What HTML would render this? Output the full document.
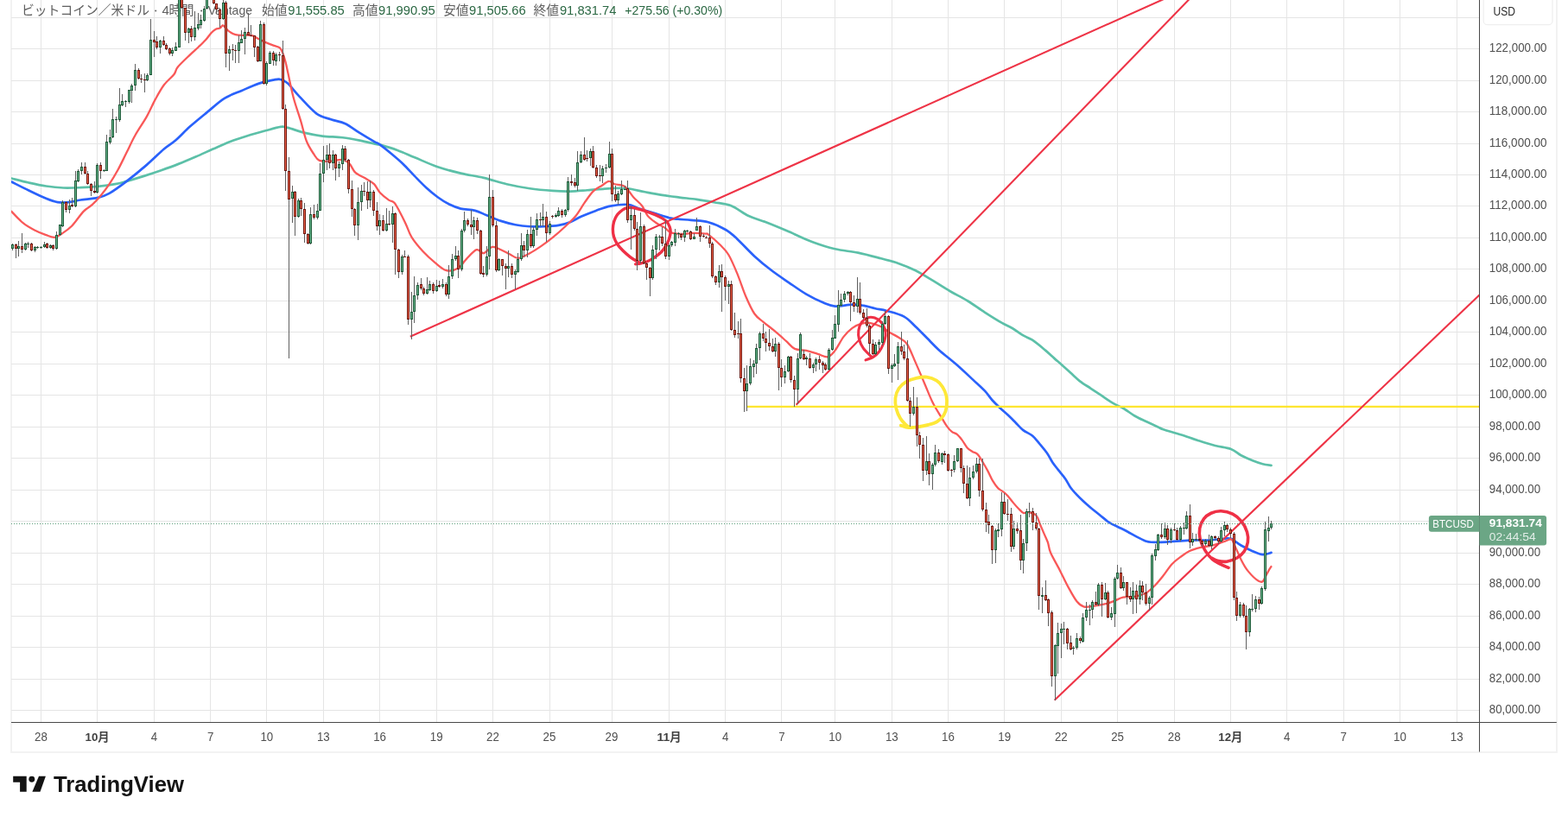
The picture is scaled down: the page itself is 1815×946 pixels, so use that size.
<!DOCTYPE html>
<html><head><meta charset="utf-8"><title>BTCUSD</title>
<style>html,body{margin:0;padding:0;background:#fff;overflow:hidden}svg{display:block}text{will-change:transform}text{font-family:"Liberation Sans","Noto Sans CJK JP",sans-serif}</style></head><body>
<svg width="1815" height="946" viewBox="0 0 1815 946">
<rect width="1815" height="946" fill="#fff"/>
<path d="M13 0V871H1802V0" fill="none" stroke="#f2f2f2" stroke-width="2"/>
<path d="M47.5 0V836.5M112.5 0V836.5M178.5 0V836.5M243.5 0V836.5M308.5 0V836.5M374.5 0V836.5M439.5 0V836.5M505.5 0V836.5M570.5 0V836.5M636.5 0V836.5M708.5 0V836.5M774.5 0V836.5M839.5 0V836.5M904.5 0V836.5M966.5 0V836.5M1032.5 0V836.5M1097.5 0V836.5M1162.5 0V836.5M1228.5 0V836.5M1293.5 0V836.5M1359.5 0V836.5M1424.5 0V836.5M1489.5 0V836.5M1555.5 0V836.5M1620.5 0V836.5M1686.5 0V836.5M13 20.5H1712.5M13 56.5H1712.5M13 93.5H1712.5M13 129.5H1712.5M13 166.5H1712.5M13 202.5H1712.5M13 238.5H1712.5M13 275.5H1712.5M13 311.5H1712.5M13 348.5H1712.5M13 384.5H1712.5M13 421.5H1712.5M13 457.5H1712.5M13 494.5H1712.5M13 530.5H1712.5M13 567.5H1712.5M13 603.5H1712.5M13 640.5H1712.5M13 676.5H1712.5M13 713.5H1712.5M13 749.5H1712.5M13 786.5H1712.5M13 822.5H1712.5" fill="none" stroke="#e5e5e5" stroke-width="1"/>
<g><text x="25" y="16.8" font-size="15" fill="#606060" font-family="&quot;Liberation Sans&quot;,&quot;Noto Sans CJK JP&quot;,sans-serif" textLength="148" lengthAdjust="spacingAndGlyphs">ビットコイン／米ドル</text><circle cx="180.2" cy="12.6" r="1" fill="#606060"/><text x="187.4" y="16.8" font-size="15" fill="#606060">4</text><text x="195.4" y="16.8" font-size="15" fill="#606060" font-family="&quot;Liberation Sans&quot;,&quot;Noto Sans CJK JP&quot;,sans-serif" textLength="29" lengthAdjust="spacingAndGlyphs">時間</text><circle cx="233.1" cy="12.6" r="1" fill="#606060"/><text x="240.8" y="16.8" font-size="15" fill="#606060" textLength="51.2" lengthAdjust="spacingAndGlyphs">Vantage</text><text x="303" y="16.8" font-size="15" fill="#606060" font-family="&quot;Liberation Sans&quot;,&quot;Noto Sans CJK JP&quot;,sans-serif" textLength="29.5" lengthAdjust="spacingAndGlyphs">始値</text><text x="333.2" y="16.8" font-size="15" fill="#2b6843" textLength="65.6" lengthAdjust="spacingAndGlyphs">91,555.85</text><text x="408" y="16.8" font-size="15" fill="#606060" font-family="&quot;Liberation Sans&quot;,&quot;Noto Sans CJK JP&quot;,sans-serif" textLength="29.5" lengthAdjust="spacingAndGlyphs">高値</text><text x="438.1" y="16.8" font-size="15" fill="#2b6843" textLength="65.6" lengthAdjust="spacingAndGlyphs">91,990.95</text><text x="513" y="16.8" font-size="15" fill="#606060" font-family="&quot;Liberation Sans&quot;,&quot;Noto Sans CJK JP&quot;,sans-serif" textLength="29.5" lengthAdjust="spacingAndGlyphs">安値</text><text x="543" y="16.8" font-size="15" fill="#2b6843" textLength="65.6" lengthAdjust="spacingAndGlyphs">91,505.66</text><text x="617.5" y="16.8" font-size="15" fill="#606060" font-family="&quot;Liberation Sans&quot;,&quot;Noto Sans CJK JP&quot;,sans-serif" textLength="29.5" lengthAdjust="spacingAndGlyphs">終値</text><text x="647.9" y="16.8" font-size="15" fill="#2b6843" textLength="65.6" lengthAdjust="spacingAndGlyphs">91,831.74</text><text x="723.2" y="16.8" font-size="15" fill="#2b6843" textLength="113" lengthAdjust="spacingAndGlyphs">+275.56 (+0.30%)</text></g>
<defs><clipPath id="pane"><rect x="13" y="0" width="1699.5" height="836.5"/></clipPath></defs>
<g clip-path="url(#pane)">
<path d="M13.32 206.53C16.66 207.36 26.65 210.03 33.31 211.53C39.97 213.02 46.64 214.52 53.3 215.52C59.96 216.52 66.62 217.24 73.28 217.52C79.95 217.8 86.61 217.47 93.27 217.19C99.93 216.91 106.6 216.52 113.26 215.86C119.92 215.19 127.69 214.19 133.24 213.19C138.8 212.19 141.02 211.41 146.57 209.86C152.12 208.31 159.89 205.97 166.56 203.86C173.22 201.75 179.88 199.53 186.54 197.2C193.2 194.87 199.87 192.48 206.53 189.87C213.19 187.26 219.85 184.43 226.52 181.55C233.18 178.66 239.84 175.49 246.5 172.55C253.16 169.61 259.83 166.44 266.49 163.89C273.15 161.34 279.81 159.28 286.48 157.23C293.14 155.17 300.08 153.29 306.46 151.57C312.85 149.84 320.34 147.51 324.78 146.9C329.22 146.29 328.39 146.74 333.11 147.9C337.83 149.07 346.44 152.29 353.1 153.9C359.76 155.51 365.87 156.67 373.08 157.56C380.3 158.45 389.18 158.39 396.4 159.23C403.62 160.06 409.73 161.23 416.39 162.56C423.05 163.89 432.44 166.38 436.38 167.22C440.31 168.07 436.06 166.5 440 167.62C443.94 168.74 453.32 171.51 459.99 173.95C466.65 176.39 472.2 179.06 479.97 182.28C487.75 185.5 497.74 190.22 506.62 193.27C515.51 196.32 524.39 198.49 533.27 200.6C542.15 202.71 551.04 203.82 559.92 205.93C568.8 208.04 577.69 211.2 586.57 213.26C595.45 215.31 604.33 216.98 613.22 218.25C622.1 219.53 632.09 220.36 639.87 220.92C647.64 221.47 653.19 221.7 659.85 221.59C666.52 221.47 673.18 220.75 679.84 220.25C686.5 219.75 694.27 218.98 699.83 218.59C705.38 218.2 708.71 217.98 713.15 217.92C717.59 217.87 720.92 217.53 726.48 218.25C732.03 218.98 739.8 220.97 746.46 222.25C753.12 223.53 759.79 224.86 766.45 225.92C773.11 226.97 779.77 227.75 786.44 228.58C793.1 229.41 799.76 229.97 806.42 230.91C813.08 231.86 819.75 233.02 826.41 234.24C833.07 235.47 839.69 235.62 846.4 238.24C853.1 240.87 859.93 246.82 866.64 250C873.34 253.18 878.85 254.27 886.62 257.33C894.39 260.38 904.39 264.55 913.27 268.32C922.15 272.1 931.04 276.65 939.92 279.98C948.8 283.31 957.69 286.2 966.57 288.31C975.45 290.42 984.33 290.81 993.22 292.64C1002.1 294.47 1012.09 297.25 1019.87 299.3C1027.64 301.35 1033.19 302.63 1039.85 304.96C1046.52 307.3 1053.18 309.96 1059.84 313.29C1066.5 316.62 1073.16 320.95 1079.83 324.95C1086.49 328.95 1093.15 333.39 1099.81 337.28C1106.48 341.16 1113.14 344.21 1119.8 348.27C1126.46 352.32 1133.12 357.32 1139.79 361.59C1146.45 365.87 1154.45 370.85 1159.77 373.92C1165.09 376.99 1167.61 377.58 1171.71 380C1175.82 382.42 1180.52 386.17 1184.4 388.46C1188.27 390.75 1190.74 390.92 1194.97 393.74C1199.2 396.56 1205.54 401.85 1209.77 405.37C1214 408.89 1217.17 412.06 1220.34 414.88C1223.51 417.7 1225.62 419.46 1228.79 422.28C1231.97 425.1 1235.84 428.63 1239.37 431.8C1242.89 434.97 1246.06 438.32 1249.94 441.31C1253.81 444.31 1258.39 446.95 1262.62 449.77C1266.85 452.59 1271.08 455.41 1275.31 458.22C1279.53 461.04 1283.76 464.21 1287.99 466.68C1292.22 469.15 1296.45 470.56 1300.68 473.02C1304.9 475.49 1309.13 479.01 1313.36 481.48C1317.59 483.95 1321.61 485.71 1326.05 487.82C1330.49 489.94 1336.57 492.59 1340 494.16C1343.43 495.74 1342.17 495.76 1346.6 497.28C1351.03 498.8 1359.93 501.17 1366.59 503.28C1373.25 505.39 1379.91 507.83 1386.58 509.94C1393.24 512.05 1400.18 514.27 1406.56 515.94C1412.95 517.6 1419.89 518.05 1424.88 519.93C1429.88 521.82 1432.38 525.04 1436.54 527.26C1440.71 529.48 1445.7 531.59 1449.87 533.26C1454.03 534.92 1457.92 536.31 1461.53 537.26C1465.13 538.2 1469.85 538.64 1471.52 538.92" fill="none" stroke="#5cc0a8" stroke-width="2.7" stroke-linecap="round" stroke-linejoin="round"/>
<path d="M13.32 210.53C16.66 212.19 26.65 217.3 33.31 220.52C39.97 223.74 47.75 227.57 53.3 229.85C58.85 232.12 62.18 233.46 66.62 234.18C71.06 234.9 75.51 234.62 79.95 234.18C84.39 233.73 87.72 232.4 93.27 231.51C98.82 230.62 107.71 230.12 113.26 228.85C118.81 227.57 121.03 227.02 126.58 223.85C132.13 220.69 139.35 215.36 146.57 209.86C153.79 204.36 162.67 197.09 169.89 190.87C177.1 184.65 184.32 177.27 189.87 172.55C195.43 167.83 198.2 166.89 203.2 162.56C208.19 158.23 213.75 152.01 219.85 146.57C225.96 141.13 233.18 135.35 239.84 129.91C246.5 124.47 253.16 118.09 259.83 113.92C266.49 109.76 273.15 107.82 279.81 104.93C286.48 102.04 293.69 98.66 299.8 96.6C305.91 94.55 312.29 93.38 316.46 92.6C320.62 91.83 322.01 91.27 324.78 91.94C327.56 92.6 329.5 93.33 333.11 96.6C336.72 99.88 340.88 105.76 346.44 111.59C351.99 117.42 360.32 127.14 366.42 131.58C372.53 136.02 377.53 136.3 383.08 138.24C388.63 140.18 394.18 140.63 399.73 143.24C405.29 145.85 410.84 150.46 416.39 153.9C421.94 157.34 429.11 161.6 433.04 163.89C436.98 166.18 436.62 165.22 440 167.62C443.38 170.02 448.88 174.56 453.32 178.28C457.77 182 462.21 185.67 466.65 189.94C471.09 194.21 475.53 199.38 479.97 203.93C484.41 208.48 488.86 213.2 493.3 217.26C497.74 221.31 502.18 225.03 506.62 228.25C511.06 231.47 515.51 234.35 519.95 236.58C524.39 238.8 528.27 240.35 533.27 241.57C538.27 242.79 544.93 242.63 549.93 243.9C554.92 245.18 558.25 247.24 563.25 249.23C568.25 251.23 574.35 254.06 579.91 255.9C585.46 257.73 591.01 259.17 596.56 260.23C602.11 261.28 607.67 261.89 613.22 262.23C618.77 262.56 624.32 262.45 629.87 262.23C635.43 262 641.53 261.73 646.53 260.89C651.53 260.06 655.41 258.95 659.85 257.23C664.29 255.51 668.18 252.79 673.18 250.57C678.17 248.35 684.28 245.9 689.83 243.9C695.39 241.91 700.38 239.74 706.49 238.57C712.6 237.41 720.92 236.41 726.48 236.91C732.03 237.41 734.8 239.96 739.8 241.57C744.8 243.18 750.35 244.74 756.46 246.57C762.56 248.4 769.22 251.18 776.44 252.56C783.66 253.95 792.54 254.12 799.76 254.9C806.98 255.67 813.04 255.38 819.75 257.23C826.45 259.08 834.39 262.75 839.99 265.99C845.58 269.23 847.76 271.54 853.31 276.65C858.86 281.76 866.64 290.53 873.3 296.64C879.96 302.74 886.62 308.18 893.28 313.29C899.95 318.4 906.61 322.73 913.27 327.28C919.93 331.83 926.6 336.72 933.26 340.61C939.92 344.49 947.69 348.27 953.24 350.6C958.8 352.93 961.02 354.26 966.57 354.6C972.12 354.93 981 352.71 986.56 352.6C992.11 352.49 995.44 353.15 999.88 353.93C1004.32 354.71 1008.76 356.26 1013.2 357.26C1017.65 358.26 1020.98 358.37 1026.53 359.93C1032.08 361.48 1040.96 363.54 1046.52 366.59C1052.07 369.64 1055.4 374.08 1059.84 378.25C1064.28 382.41 1068.72 387.13 1073.16 391.57C1077.61 396.01 1080.94 399.9 1086.49 404.9C1092.04 409.89 1099.81 415.72 1106.48 421.55C1113.14 427.38 1120.87 434.68 1126.46 439.87C1132.05 445.06 1136.33 448.79 1140 452.68C1143.67 456.58 1145.64 460.08 1148.46 463.26C1151.28 466.43 1153.74 468.72 1156.91 471.71C1160.08 474.71 1164.31 478.23 1167.48 481.23C1170.66 484.22 1173.12 486.86 1175.94 489.68C1178.76 492.5 1181.23 495.67 1184.4 498.14C1187.57 500.61 1191.8 501.84 1194.97 504.48C1198.14 507.12 1200.61 510.65 1203.42 514C1206.24 517.34 1209.42 521.04 1211.88 524.57C1214.35 528.09 1216.11 531.97 1218.22 535.14C1220.34 538.31 1222.1 540.42 1224.57 543.59C1227.03 546.77 1230.56 550.64 1233.02 554.16C1235.49 557.69 1237.25 561.74 1239.37 564.74C1241.48 567.73 1243.24 569.49 1245.71 572.14C1248.17 574.78 1251.35 577.95 1254.16 580.59C1256.98 583.23 1259.45 585.35 1262.62 587.99C1265.79 590.63 1269.67 593.63 1273.19 596.45C1276.72 599.27 1280.24 602.61 1283.76 604.9C1287.29 607.2 1290.81 608.43 1294.33 610.19C1297.86 611.95 1301.38 613.61 1304.9 615.48C1308.43 617.34 1311.95 619.56 1315.48 621.4C1319 623.23 1323.23 625.41 1326.05 626.47C1328.87 627.53 1328.41 627.56 1332.39 627.74C1336.37 627.91 1342.57 627.9 1349.93 627.53C1357.3 627.16 1368.81 625.86 1376.58 625.53C1384.35 625.2 1389.91 625.81 1396.57 625.53C1403.23 625.25 1411.84 624.14 1416.56 623.86C1421.27 623.59 1421.55 622.59 1424.88 623.86C1428.21 625.14 1432.38 629.14 1436.54 631.53C1440.71 633.91 1445.7 636.41 1449.87 638.19C1454.03 639.96 1457.92 641.91 1461.53 642.19C1465.13 642.46 1469.85 640.24 1471.52 639.85" fill="none" stroke="#2a62fb" stroke-width="2.7" stroke-linecap="round" stroke-linejoin="round"/>
<path d="M13.32 244.84C15.55 247.06 22.21 254.55 26.65 258.16C31.09 261.77 35.53 264.16 39.97 266.49C44.41 268.82 49.41 270.76 53.3 272.15C57.18 273.54 60.24 275.09 63.29 274.82C66.34 274.54 68.29 272.71 71.62 270.49C74.95 268.27 79.11 265.77 83.28 261.49C87.44 257.22 92.72 248.89 96.6 244.84C100.49 240.78 103.26 240.23 106.6 237.18C109.93 234.12 113.26 230.51 116.59 226.52C119.92 222.52 123.25 218.19 126.58 213.19C129.91 208.19 133.24 202.64 136.58 196.54C139.91 190.43 143.24 183.21 146.57 176.55C149.9 169.89 152.68 163.5 156.56 156.56C160.45 149.62 166 141.85 169.89 134.91C173.77 127.97 176.55 121.03 179.88 114.92C183.21 108.82 186.26 103.1 189.87 98.27C193.48 93.44 198.9 89.37 201.53 85.94C204.17 82.52 202.65 81.44 205.7 77.71C208.74 73.99 215.78 67.46 219.79 63.59C223.79 59.72 226.68 57.38 229.71 54.5C232.75 51.62 235.53 49.05 238.01 46.3C240.49 43.55 242.69 40.07 244.6 38.01C246.52 35.94 247.85 34.81 249.5 33.91C251.15 33.01 253.11 33.38 254.5 32.61C255.88 31.85 256.83 29.51 257.79 29.31C258.76 29.11 259.06 30.23 260.29 31.41C261.53 32.59 263.12 34.96 265.19 36.41C267.26 37.86 270.05 39.36 272.68 40.11C275.32 40.86 278.81 40.84 281.01 40.91C283.22 40.97 283.99 40.44 285.91 40.51C287.82 40.57 290.44 40.62 292.5 41.31C294.57 41.99 296.24 43.5 298.3 44.6C300.37 45.7 302.83 46.94 304.9 47.9C306.96 48.87 308.63 49.57 310.69 50.4C312.76 51.23 315.09 52.07 317.29 52.9C319.49 53.73 322.23 54.01 323.88 55.4C325.54 56.78 326.11 58.44 327.22 61.19C328.32 63.94 329.53 68.2 330.51 71.89C331.5 75.57 331.57 76.38 333.11 83.28C334.65 90.17 337.28 103.82 339.77 113.26C342.27 122.7 345.6 131.58 348.1 139.91C350.6 148.23 352.27 156.84 354.76 163.22C357.26 169.61 360.59 174.44 363.09 178.21C365.59 181.99 366.42 184.49 369.75 185.88C373.08 187.26 378.64 186.71 383.08 186.54C387.52 186.38 392.79 184.32 396.4 184.88C400.01 185.43 402.23 187.38 404.73 189.87C407.23 192.37 408.34 197.09 411.39 199.87C414.45 202.64 419.44 204.31 423.05 206.53C426.66 208.75 430.22 210.4 433.04 213.19C435.87 215.98 437.18 220.19 440 223.25C442.82 226.32 447.22 229.64 449.99 231.58C452.77 233.52 454.43 232.41 456.66 234.91C458.88 237.41 461.1 242.41 463.32 246.57C465.54 250.73 467.76 255.17 469.98 259.89C472.2 264.61 473.31 269.61 476.64 274.88C479.97 280.16 485.53 286.71 489.97 291.54C494.41 296.37 498.85 300.26 503.29 303.86C507.73 307.47 512.17 312.03 516.62 313.19C521.06 314.36 526.05 313.08 529.94 310.86C533.83 308.64 536.32 303.48 539.93 299.87C543.54 296.26 548.26 290.32 551.59 289.21C554.92 288.1 556.87 293.76 559.92 293.2C562.97 292.65 566.58 286.54 569.91 285.88C573.24 285.21 576.58 287.82 579.91 289.21C583.24 290.6 586.57 292.59 589.9 294.2C593.23 295.81 596.01 299.03 599.89 298.87C603.78 298.7 608.78 295.54 613.22 293.2C617.66 290.87 622.1 287.93 626.54 284.88C630.98 281.82 635.43 278.49 639.87 274.88C644.31 271.27 648.75 267.39 653.19 263.22C657.63 259.06 662.63 254.62 666.52 249.9C670.4 245.18 673.18 239.63 676.51 234.91C679.84 230.19 683.17 224.92 686.5 221.59C689.83 218.25 693.44 216.87 696.5 214.92C699.55 212.98 702.33 210.2 704.82 209.93C707.32 209.65 708.43 212.26 711.49 213.26C714.54 214.26 719.54 213.42 723.14 215.92C726.75 218.42 729.81 224.53 733.14 228.25C736.47 231.97 740.36 234.63 743.13 238.24C745.91 241.85 747.02 246.57 749.79 249.9C752.57 253.23 756.46 255.9 759.79 258.23C763.12 260.56 767 262.06 769.78 263.89C772.56 265.72 773.11 268.05 776.44 269.22C779.77 270.39 785.33 270.78 789.77 270.89C794.21 271 798.65 269.94 803.09 269.89C807.53 269.83 813.6 270.26 816.42 270.55C819.23 270.85 817.18 269.53 820 271.65C822.82 273.78 829.44 279.42 833.32 283.31C837.21 287.2 839.99 289.42 843.32 294.97C846.65 300.52 849.98 308.57 853.31 316.62C856.64 324.67 859.97 335.5 863.3 343.27C866.64 351.04 869.97 358.37 873.3 363.26C876.63 368.14 879.4 369.25 883.29 372.58C887.18 375.92 892.17 379.52 896.62 383.24C901.06 386.96 906.05 391.46 909.94 394.9C913.83 398.35 916.05 402.07 919.93 403.9C923.82 405.73 928.82 404.9 933.26 405.9C937.7 406.9 942.42 408.67 946.58 409.89C950.75 411.11 954.91 413.89 958.24 413.22C961.57 412.56 963.52 409.78 966.57 405.9C969.62 402.01 973.23 394.24 976.56 389.91C979.89 385.58 983.22 382.41 986.56 379.91C989.89 377.42 993.22 375.92 996.55 374.92C999.88 373.92 1002.66 373.36 1006.54 373.92C1010.43 374.47 1015.98 376.42 1019.87 378.25C1023.75 380.08 1026.53 382.86 1029.86 384.91C1033.19 386.96 1036.52 388.35 1039.85 390.57C1043.18 392.79 1046.52 393.35 1049.85 398.23C1053.18 403.12 1056.51 412.39 1059.84 419.89C1063.17 427.38 1066.5 435.43 1069.83 443.2C1073.16 450.98 1076.47 459.77 1079.83 466.52C1083.19 473.27 1087.32 479.23 1090 483.7C1092.68 488.17 1093.95 490.61 1095.92 493.32C1097.89 496.03 1099.87 498.38 1101.84 499.98C1103.81 501.58 1105.79 501.34 1107.76 502.94C1109.73 504.54 1111.71 507.01 1113.68 509.6C1115.65 512.19 1117.63 516.26 1119.6 518.48C1121.57 520.7 1123.55 521.69 1125.52 522.92C1127.49 524.15 1129.47 523.91 1131.44 525.88C1133.41 527.85 1135.39 531.55 1137.36 534.76C1139.33 537.96 1141.3 541.42 1143.28 545.12C1145.25 548.82 1147.22 553.63 1149.2 556.96C1151.17 560.29 1152.9 562.88 1155.12 565.1C1157.34 567.32 1160.54 568.67 1162.52 570.28C1164.49 571.88 1165.23 572.74 1166.96 574.72C1168.68 576.69 1170.9 579.77 1172.88 582.12C1174.85 584.46 1176.82 586.8 1178.8 588.78C1180.77 590.75 1182.74 593.22 1184.72 593.96C1186.69 594.7 1188.17 592.72 1190.64 593.22C1193.1 593.71 1197.3 594.57 1199.52 596.92C1201.74 599.26 1202.48 603.82 1203.96 607.28C1205.44 610.73 1206.9 614.15 1208.4 617.64C1209.89 621.12 1211.65 624.43 1212.94 628.16C1214.22 631.89 1213.84 634.71 1216.11 640C1218.38 645.29 1223.17 653.26 1226.58 659.91C1229.99 666.56 1233.24 673.79 1236.58 679.89C1239.91 686 1243.52 692.77 1246.57 696.55C1249.62 700.32 1251.57 701.71 1254.9 702.54C1258.23 703.38 1262.39 702.1 1266.56 701.55C1270.72 700.99 1275.99 700.16 1279.88 699.21C1283.77 698.27 1286.54 697.16 1289.87 695.88C1293.2 694.61 1295.98 692.39 1299.87 691.55C1303.75 690.72 1308.75 691.72 1313.19 690.89C1317.63 690.05 1322.63 688.67 1326.52 686.56C1330.4 684.45 1333.18 681.56 1336.51 678.23C1339.84 674.9 1343.17 670.73 1346.5 666.57C1349.83 662.41 1353.16 656.85 1356.5 653.24C1359.83 649.64 1363.16 647.42 1366.49 644.92C1369.82 642.42 1372.6 640.09 1376.48 638.25C1380.37 636.42 1385.37 635.03 1389.81 633.92C1394.25 632.81 1398.69 632.7 1403.13 631.59C1407.57 630.48 1412.79 628.48 1416.46 627.26C1420.12 626.05 1423.12 623.82 1425.12 624.31C1427.12 624.79 1427.21 627.65 1428.46 630.15C1429.71 632.66 1431.24 636.28 1432.64 639.34C1434.03 642.4 1435.42 645.74 1436.81 648.53C1438.2 651.31 1439.6 653.81 1440.99 656.04C1442.38 658.27 1443.49 659.86 1445.16 661.89C1446.83 663.92 1449.06 666.43 1451.01 668.23C1452.96 670.04 1455.18 671.85 1456.85 672.74C1458.53 673.64 1459.92 674 1461.03 673.58C1462.14 673.16 1462.7 671.63 1463.54 670.24C1464.37 668.85 1465.21 666.84 1466.04 665.23C1466.88 663.61 1467.66 662.08 1468.55 660.55C1469.44 659.02 1470.91 656.79 1471.39 656.04" fill="none" stroke="#f95858" stroke-width="2.3" stroke-linecap="round" stroke-linejoin="round"/>
<path d="M864.3 470.9H1712.5" stroke="#fde52f" stroke-width="2.1" fill="none"/>
<path d="M474.8 389.8L1351.5 -3" stroke="#ee3346" stroke-width="2.1" fill="none"/>
<path d="M921.6 468.8L1378.6 -3" stroke="#ee3346" stroke-width="2.1" fill="none"/>
<path d="M1220.6 810.8L1712.5 341.5" stroke="#ee3346" stroke-width="2.1" fill="none"/>
<path d="M735.66 305.82C736.75 305.66 739.93 305.32 742.19 304.82C744.45 304.32 746.71 303.9 749.22 302.81C751.73 301.72 754.57 300.08 757.25 298.29C759.93 296.5 763.02 294.33 765.28 292.07C767.54 289.81 769.3 287.22 770.8 284.74C772.31 282.26 773.43 279.8 774.32 277.21C775.2 274.62 775.99 271.6 776.12 269.18C776.26 266.75 775.92 264.83 775.12 262.65C774.32 260.48 773.28 258.08 771.31 256.12C769.33 254.17 766.62 252.61 763.27 250.9C759.93 249.2 755.07 247.32 751.22 245.88C747.38 244.44 743.69 243.21 740.18 242.27C736.67 241.33 732.99 240.38 730.14 240.26C727.3 240.14 725.12 240.76 723.11 241.57C721.1 242.37 719.68 243.66 718.09 245.08C716.5 246.5 714.83 248.09 713.57 250.1C712.32 252.11 711.27 254.62 710.56 257.13C709.86 259.64 709.36 262.32 709.36 265.16C709.36 268.01 709.69 271.27 710.56 274.2C711.43 277.13 712.82 280.05 714.58 282.73C716.34 285.41 718.68 287.83 721.1 290.26C723.53 292.69 726.54 295.28 729.14 297.29C731.73 299.3 734.66 301.1 736.67 302.31C738.67 303.51 740.43 304.15 741.18 304.52" fill="none" stroke="#ef3046" stroke-width="3.4" stroke-linecap="round" stroke-linejoin="round"/><path d="M1002.05 416.89C1003.5 416.31 1008.15 415.06 1010.77 413.4C1013.39 411.74 1015.8 409.47 1017.75 406.94C1019.7 404.41 1021.24 401.27 1022.46 398.22C1023.68 395.17 1024.85 391.68 1025.08 388.62C1025.31 385.57 1024.79 382.57 1023.86 379.9C1022.93 377.22 1021.39 374.55 1019.49 372.57C1017.6 370.59 1014.99 368.85 1012.52 368.03C1010.04 367.22 1007.14 366.93 1004.66 367.68C1002.19 368.44 999.49 370.1 997.68 372.57C995.88 375.04 994.37 379.11 993.84 382.52C993.32 385.92 993.61 389.49 994.54 392.98C995.47 396.47 997.31 400.34 999.43 403.45C1001.55 406.57 1005.54 409.97 1007.28 411.66C1009.03 413.34 1009.46 413.25 1009.9 413.57" fill="none" stroke="#ef3046" stroke-width="3.1" stroke-linecap="round" stroke-linejoin="round"/><path d="M1042.7 492.62C1044.21 493.03 1048.52 494.77 1051.78 495.06C1055.03 495.35 1058.46 494.89 1062.24 494.36C1066.03 493.84 1070.68 492.97 1074.46 491.92C1078.24 490.87 1081.96 489.88 1084.93 488.08C1087.89 486.28 1090.45 484.01 1092.26 481.1C1094.06 478.19 1095.22 474.41 1095.75 470.63C1096.27 466.85 1096.18 462.2 1095.4 458.42C1094.61 454.64 1092.93 450.92 1091.04 447.95C1089.15 444.98 1087.11 442.51 1084.06 440.62C1081 438.73 1076.64 437.07 1072.71 436.61C1068.79 436.14 1064.43 436.96 1060.5 437.83C1056.57 438.7 1052.5 439.86 1049.16 441.84C1045.81 443.82 1042.56 446.49 1040.43 449.69C1038.31 452.89 1036.91 457.11 1036.42 461.04C1035.93 464.96 1036.51 469.32 1037.47 473.25C1038.43 477.18 1040.38 481.54 1042.18 484.59C1043.98 487.65 1046.54 489.88 1048.29 491.57C1050.03 493.26 1051.92 494.19 1052.65 494.71" fill="none" stroke="#fee838" stroke-width="3.8" stroke-linecap="round" stroke-linejoin="round"/><path d="M1422.11 657.38C1420.53 656.68 1415.71 654.82 1412.59 653.2C1409.47 651.59 1406.33 650.28 1403.41 647.69C1400.48 645.1 1397.42 641.57 1395.05 637.67C1392.69 633.77 1390.27 628.62 1389.21 624.31C1388.15 619.99 1388.01 615.68 1388.71 611.78C1389.4 607.88 1391.21 603.84 1393.38 600.92C1395.56 598 1398.39 595.77 1401.74 594.24C1405.08 592.71 1409.25 591.6 1413.43 591.74C1417.6 591.87 1422.89 593.13 1426.79 595.08C1430.69 597.02 1434.03 599.95 1436.81 603.43C1439.6 606.91 1442.24 611.92 1443.49 615.95C1444.75 619.99 1444.88 623.89 1444.33 627.65C1443.77 631.4 1442.24 635.44 1440.15 638.5C1438.06 641.57 1435.14 644.07 1431.8 646.02C1428.46 647.97 1423.87 649.64 1420.11 650.2C1416.35 650.75 1412.17 650.06 1409.25 649.36C1406.33 648.66 1403.68 646.58 1402.57 646.02" fill="none" stroke="#ef3046" stroke-width="3.6" stroke-linecap="round" stroke-linejoin="round"/>
<path d="M14.5 282V283M14.5 288V290M18.5 282V283M18.5 288V299M21.5 279V285M21.5 288V297M25.5 270V285M25.5 289V293M29.5 281V282M29.5 289V290M32.5 280V282M32.5 283V287M36.5 281V282M36.5 290V291M40.5 285V286M40.5 290V292M43.5 285V286M43.5 287V288M47.5 285V286M47.5 287V288M51.5 280V283M51.5 286V287M54.5 281V282M54.5 287V288M58.5 283V284M58.5 287V288M61.5 283V284M61.5 288V290M65.5 268V272M65.5 288V289M69.5 272V273M72.5 232V234M72.5 262V263M76.5 233V234M76.5 243V246M80.5 231V238M80.5 243V247M83.5 229V237M83.5 239V240M87.5 198V209M87.5 239V240M90.5 196V198M90.5 210V211M94.5 188V193M94.5 198V202M98.5 188V193M98.5 201V202M101.5 198V201M101.5 213V214M105.5 212V213M105.5 221V227M109.5 210V221M109.5 223V224M112.5 189V191M112.5 223V224M116.5 188V191M116.5 198V207M120.5 196V197M120.5 198V199M123.5 156V164M127.5 150V159M127.5 165V167M130.5 126V138M130.5 159V160M134.5 135V138M134.5 139V154M138.5 102V121M138.5 139V141M141.5 109V117M141.5 122V123M145.5 116V117M145.5 118V124M149.5 118V120M152.5 97V99M152.5 105V119M156.5 74V81M156.5 99V105M160.5 79V81M160.5 91V92M163.5 86V91M163.5 92V96M167.5 85V92M167.5 93V107M170.5 85V87M170.5 93V94M174.5 22V46M178.5 36V46M178.5 49V66M181.5 42V48M181.5 55V57M185.5 46V47M185.5 55V62M189.5 42V47M189.5 52V53M192.5 50V52M192.5 57V58M196.5 55V56M196.5 62V64M199.5 55V58M199.5 62V65M203.5 49V54M207.5 -7V-5M210.5 -7V-5M210.5 9V10M214.5 38V47M218.5 32V33M218.5 38V50M221.5 30V33M221.5 43V48M225.5 13V32M225.5 43V47M229.5 15V28M229.5 33V35M232.5 17V23M232.5 29V33M236.5 7V10M236.5 24V25M239.5 -7V-3M239.5 10V11M243.5 -8V-6M243.5 -3V-2M247.5 -8V-6M247.5 4V5M250.5 11V16M254.5 22V32M258.5 0V3M258.5 22V23M261.5 1V3M261.5 62V78M265.5 53V57M265.5 62V82M269.5 51V57M269.5 58V70M272.5 52V58M272.5 59V73M276.5 41V49M276.5 59V73M279.5 35V45M283.5 32V37M283.5 45V63M287.5 15V37M290.5 29V41M294.5 55V66M298.5 53V54M298.5 71V72M301.5 24V28M305.5 26V28M305.5 97V98M308.5 71V73M308.5 97V99M312.5 59V61M316.5 59V61M316.5 70V76M319.5 61V63M319.5 71V76M323.5 60V63M323.5 64V71M327.5 47V64M327.5 126V127M330.5 121V126M330.5 198V221M334.5 182V198M334.5 231V415M338.5 215V222M338.5 230V258M341.5 221V222M341.5 251V273M345.5 230V232M345.5 251V252M348.5 229V232M348.5 242V250M352.5 235V242M352.5 271V281M356.5 270V271M356.5 282V283M359.5 240V248M359.5 282V283M363.5 237V248M363.5 252V254M367.5 236V244M367.5 252V254M370.5 189V201M374.5 169V185M374.5 201V211M378.5 168V179M378.5 185V197M381.5 166V179M381.5 189V195M385.5 174V179M385.5 189V197M388.5 178V179M388.5 195V209M392.5 187V190M392.5 195V205M396.5 168V172M396.5 190V197M399.5 169V172M399.5 185V187M403.5 184V185M403.5 219V224M407.5 209V219M407.5 242V251M410.5 241V242M410.5 261V273M414.5 217V234M414.5 261V278M418.5 214V221M418.5 234V244M421.5 211V221M421.5 222V227M425.5 210V222M425.5 232V242M428.5 209V222M428.5 232V240M432.5 220V222M432.5 244V250M436.5 234V244M436.5 262V267M439.5 248V255M439.5 262V272M443.5 249V255M443.5 267V268M447.5 241V259M447.5 267V268M450.5 244V259M450.5 260V261M454.5 239V247M454.5 260V281M457.5 246V247M457.5 289V318M461.5 288V289M461.5 315V322M465.5 295V297M465.5 315V318M468.5 290V297M472.5 295V297M472.5 370V376M476.5 338V361M476.5 370V393M479.5 320V342M479.5 361V374M483.5 327V330M483.5 342V347M487.5 322V329M487.5 334V336M490.5 332V334M490.5 340V342M494.5 321V335M494.5 340V341M497.5 325V329M497.5 336V337M501.5 327V329M501.5 337V340M505.5 324V331M505.5 337V338M508.5 325V330M508.5 332V333M512.5 323V329M512.5 332V334M516.5 327V329M516.5 341V343M519.5 307V320M519.5 341V346M523.5 294V300M523.5 320V323M527.5 285V296M527.5 300V302M530.5 290V296M530.5 312V322M534.5 265V267M534.5 312V314M537.5 245V255M537.5 267V269M541.5 253V255M541.5 260V262M545.5 243V260M545.5 263V272M548.5 251V255M548.5 263V277M552.5 252V255M552.5 267V271M556.5 266V267M556.5 317V318M559.5 308V316M559.5 318V321M563.5 285V297M563.5 318V320M566.5 202V228M566.5 297V312M570.5 220V228M570.5 261V263M574.5 256V261M574.5 313V315M577.5 299V300M577.5 313V314M581.5 308V319M585.5 305V308M585.5 311V335M588.5 290V308M588.5 311V321M592.5 305V308M592.5 318V322M596.5 312V314M596.5 318V335M599.5 293V300M599.5 315V316M603.5 270V284M603.5 300V302M606.5 279V284M606.5 290V298M610.5 266V271M610.5 290V298M614.5 251V271M614.5 285V287M617.5 263V266M617.5 285V287M621.5 247V254M621.5 266V273M625.5 246V254M625.5 255V262M628.5 236V251M628.5 255V262M632.5 245V251M632.5 270V280M636.5 256V259M636.5 270V272M639.5 249V250M639.5 251V253M643.5 247V249M643.5 251V252M646.5 240V244M646.5 250V251M650.5 242V244M650.5 249V252M654.5 242V243M654.5 249V251M657.5 205V210M657.5 243V245M661.5 202V210M661.5 212V215M665.5 206V211M665.5 215V217M668.5 175V188M668.5 215V221M672.5 175V179M672.5 188V189M676.5 159V179M676.5 185V186M679.5 174V183M679.5 184V187M683.5 172V175M683.5 183V192M686.5 169V175M686.5 194V195M690.5 191V194M690.5 204V206M694.5 191V203M694.5 204V210M697.5 192V195M697.5 204V212M701.5 190V194M701.5 195V200M705.5 164V178M705.5 194V195M708.5 172V178M708.5 225V233M712.5 215V225M712.5 232V234M715.5 221V224M715.5 232V237M719.5 209V219M719.5 225V226M723.5 215V219M726.5 209V218M726.5 255V258M730.5 239V249M730.5 255V289M734.5 242V249M734.5 265V267M737.5 257V265M737.5 302V313M741.5 246V262M741.5 302V305M745.5 260V262M745.5 305V306M748.5 304V305M748.5 310V324M752.5 309V310M752.5 322V343M755.5 284V289M755.5 322V324M759.5 271V274M759.5 289V300M763.5 272V274M763.5 275V290M766.5 263V274M766.5 282V285M770.5 255V282M770.5 297V300M774.5 282V284M774.5 297V301M777.5 279V280M777.5 284V286M781.5 265V270M781.5 281V285M785.5 269V270M785.5 271V276M788.5 270V271M788.5 275V278M792.5 266V267M792.5 275V280M795.5 266V267M795.5 268V269M799.5 267V268M799.5 277V278M803.5 270V274M806.5 252V262M810.5 261V262M810.5 274V280M814.5 271V273M814.5 274V275M817.5 273V275M821.5 261V275M821.5 282V287M824.5 280V282M824.5 320V322M828.5 319V320M828.5 327V330M832.5 307V314M832.5 327V333M835.5 306V314M835.5 321V361M839.5 319V321M839.5 332V348M843.5 325V329M843.5 332V352M846.5 325V329M846.5 382V383M850.5 362V382M850.5 388V391M854.5 372V386M854.5 387V392M857.5 369V386M857.5 438V443M861.5 426V438M861.5 453V477M864.5 423V444M864.5 453V476M868.5 415V424M868.5 444V446M872.5 417V421M872.5 425V437M875.5 398V403M875.5 421V433M879.5 384V386M879.5 403V417M883.5 375V386M883.5 392V395M886.5 384V392M886.5 397V407M890.5 381V397M890.5 401V406M894.5 392V401M894.5 407V408M897.5 391V398M897.5 407V413M901.5 396V398M901.5 426V452M904.5 416V426M904.5 437V448M908.5 423V430M908.5 437V444M912.5 412V413M912.5 430V431M915.5 412V413M915.5 440V443M919.5 435V440M919.5 451V471M923.5 409V415M923.5 451V468M926.5 385V387M926.5 415V416M930.5 405V410M930.5 416V417M933.5 412V414M933.5 416V423M937.5 409V415M937.5 426V427M941.5 420V422M941.5 426V432M944.5 414V416M944.5 422V430M948.5 412V416M948.5 420V428M952.5 418V420M952.5 423V432M955.5 420V422M955.5 428V429M959.5 403V405M959.5 428V429M963.5 382V391M963.5 405V406M966.5 365V375M970.5 336V353M970.5 376V384M973.5 340V347M973.5 354V355M977.5 337V340M977.5 347V350M981.5 337V338M981.5 340V342M984.5 337V338M984.5 350V372M988.5 342V350M988.5 355V361M992.5 321V346M992.5 355V362M995.5 327V346M995.5 362V364M999.5 358V362M999.5 368V370M1003.5 357V368M1003.5 377V379M1006.5 375V377M1006.5 398V410M1010.5 393V398M1010.5 410V411M1013.5 396V399M1013.5 410V411M1017.5 393V396M1017.5 399V405M1021.5 372V375M1021.5 397V400M1024.5 360V366M1024.5 375V376M1028.5 365V366M1028.5 427V433M1032.5 421V423M1032.5 427V443M1035.5 410V421M1035.5 424V425M1039.5 396V401M1039.5 421V440M1043.5 384V401M1043.5 407V411M1046.5 399V407M1046.5 415V417M1050.5 394V415M1050.5 464V465M1053.5 460V464M1053.5 479V494M1057.5 448V471M1057.5 479V481M1061.5 460V471M1061.5 504V517M1064.5 500V504M1064.5 515V531M1068.5 507V515M1068.5 545V557M1072.5 505V534M1072.5 545V550M1075.5 525V534M1075.5 549V562M1079.5 536V538M1079.5 549V567M1082.5 515V524M1082.5 538V540M1086.5 520V524M1086.5 534V536M1090.5 524V525M1090.5 535V538M1093.5 522V525M1093.5 527V536M1097.5 525V526M1097.5 545V546M1101.5 543V544M1101.5 545V552M1104.5 527V534M1104.5 544V547M1108.5 534V535M1112.5 542V547M1115.5 539V542M1115.5 560V571M1119.5 539V560M1119.5 577V578M1122.5 541V553M1122.5 577V586M1126.5 539V546M1126.5 553V555M1130.5 530V537M1130.5 546V548M1133.5 531V537M1133.5 568V575M1137.5 531V568M1137.5 590V592M1141.5 582V590M1141.5 605V616M1144.5 596V604M1144.5 608V618M1148.5 608V609M1148.5 637V653M1152.5 612V614M1152.5 637V652M1155.5 606V613M1155.5 615V622M1159.5 570V581M1159.5 613V621M1162.5 571V581M1162.5 595V596M1166.5 578V595M1166.5 596V603M1170.5 588V595M1170.5 633V639M1173.5 603V612M1173.5 633V636M1177.5 605V612M1177.5 615V618M1181.5 596V614M1181.5 649V660M1184.5 624V629M1184.5 649V664M1188.5 589V592M1188.5 629V638M1191.5 582V592M1191.5 593V599M1195.5 588V592M1195.5 605V614M1199.5 594V605M1199.5 612V614M1202.5 611V612M1202.5 690V706M1206.5 680V689M1206.5 691V710M1210.5 672V689M1210.5 695V696M1213.5 693V694M1213.5 710V725M1217.5 707V709M1217.5 783V795M1221.5 746V747M1221.5 783V811M1224.5 721V733M1224.5 748V780M1228.5 722V728M1228.5 733V762M1231.5 720V728M1231.5 729V746M1235.5 727V728M1235.5 745V752M1239.5 736V744M1239.5 752V753M1242.5 748V750M1242.5 751V758M1246.5 733V739M1246.5 750V752M1250.5 737V739M1250.5 742V745M1253.5 710V715M1253.5 743V744M1257.5 697V706M1257.5 715V719M1261.5 700V706M1261.5 707V724M1264.5 695V697M1264.5 706V716M1268.5 685V697M1268.5 700V701M1271.5 675V677M1271.5 700V702M1275.5 674V677M1275.5 694V714M1279.5 675V686M1279.5 694V695M1282.5 684V686M1282.5 715V716M1286.5 703V710M1286.5 715V718M1290.5 668V670M1290.5 711V726M1293.5 654V663M1293.5 670V671M1297.5 657V663M1297.5 681V682M1300.5 667V674M1300.5 681V684M1304.5 691V700M1308.5 680V690M1308.5 694V697M1311.5 674V684M1311.5 694V711M1315.5 677V684M1315.5 694V710M1319.5 672V678M1319.5 694V700M1322.5 673V678M1322.5 686V695M1326.5 676V686M1326.5 699V701M1330.5 690V692M1330.5 699V707M1333.5 641V643M1333.5 692V700M1337.5 630V636M1337.5 644V649M1340.5 618V619M1340.5 637V638M1344.5 606V619M1344.5 622V624M1348.5 605V612M1348.5 622V624M1351.5 608V612M1351.5 625V631M1355.5 611V613M1355.5 625V629M1359.5 606V613M1359.5 614V615M1362.5 611V614M1362.5 625V626M1366.5 609V611M1366.5 625V627M1370.5 605V611M1370.5 612V619M1373.5 592V597M1373.5 612V613M1377.5 584V597M1377.5 628V635M1380.5 617V624M1380.5 628V632M1384.5 618V624M1384.5 625V627M1388.5 623V624M1388.5 626V627M1391.5 625V626M1391.5 630V633M1395.5 624V626M1395.5 630V632M1399.5 619V626M1399.5 632V633M1402.5 620V621M1402.5 632V636M1406.5 620V621M1406.5 623V626M1410.5 621V623M1410.5 627V630M1413.5 610V614M1413.5 627V628M1417.5 604V608M1417.5 614V621M1420.5 606V608M1420.5 613V616M1424.5 611V613M1424.5 618V623M1428.5 616V618M1428.5 692V695M1431.5 685V692M1431.5 713V719M1435.5 697V700M1435.5 713V715M1439.5 698V700M1439.5 713V715M1442.5 701V713M1442.5 732V752M1446.5 704V705M1446.5 732V737M1449.5 688V705M1449.5 706V708M1453.5 690V694M1453.5 705V709M1457.5 691V694M1457.5 699V706M1460.5 679V681M1460.5 699V700M1464.5 604V613M1464.5 682V684M1468.5 598V611M1468.5 615V627M1471.5 603V606M1471.5 611V613" stroke="#606060" stroke-width="1" fill="none"/>
<path d="M13 283h3V288h-3ZM20 285h3V288h-3ZM28 282h3V289h-3ZM31 282h3V283h-3ZM39 286h3V290h-3ZM42 286h3V287h-3ZM46 286h3V287h-3ZM50 283h3V286h-3ZM57 284h3V287h-3ZM64 272h3V288h-3ZM68 260h3V272h-3ZM71 234h3V262h-3ZM79 238h3V243h-3ZM86 209h3V239h-3ZM89 198h3V210h-3ZM93 193h3V198h-3ZM111 191h3V223h-3ZM119 197h3V198h-3ZM122 164h3V198h-3ZM126 159h3V165h-3ZM129 138h3V159h-3ZM133 138h3V139h-3ZM137 121h3V139h-3ZM140 117h3V122h-3ZM144 117h3V118h-3ZM148 104h3V118h-3ZM151 99h3V105h-3ZM155 81h3V99h-3ZM169 87h3V93h-3ZM173 46h3V87h-3ZM184 47h3V55h-3ZM198 58h3V62h-3ZM202 54h3V59h-3ZM206 -5h3V55h-3ZM217 33h3V38h-3ZM224 32h3V43h-3ZM228 28h3V33h-3ZM231 23h3V29h-3ZM235 10h3V24h-3ZM238 -3h3V10h-3ZM242 -6h3V-3h-3ZM257 3h3V22h-3ZM264 57h3V62h-3ZM275 49h3V59h-3ZM278 45h3V50h-3ZM282 37h3V45h-3ZM300 28h3V71h-3ZM307 73h3V97h-3ZM311 61h3V74h-3ZM318 63h3V71h-3ZM337 222h3V230h-3ZM344 232h3V251h-3ZM358 248h3V282h-3ZM366 244h3V252h-3ZM369 201h3V244h-3ZM373 185h3V201h-3ZM377 179h3V185h-3ZM384 179h3V189h-3ZM391 190h3V195h-3ZM395 172h3V190h-3ZM413 234h3V261h-3ZM417 221h3V234h-3ZM427 222h3V232h-3ZM438 255h3V262h-3ZM446 259h3V267h-3ZM453 247h3V260h-3ZM464 297h3V315h-3ZM475 361h3V370h-3ZM478 342h3V361h-3ZM482 330h3V342h-3ZM493 335h3V340h-3ZM496 329h3V336h-3ZM504 331h3V337h-3ZM511 329h3V332h-3ZM518 320h3V341h-3ZM522 300h3V320h-3ZM526 296h3V300h-3ZM533 267h3V312h-3ZM536 255h3V267h-3ZM547 255h3V263h-3ZM562 297h3V318h-3ZM565 228h3V297h-3ZM576 300h3V313h-3ZM587 308h3V311h-3ZM595 314h3V318h-3ZM598 300h3V315h-3ZM602 284h3V300h-3ZM609 271h3V290h-3ZM616 266h3V285h-3ZM620 254h3V266h-3ZM627 251h3V255h-3ZM635 259h3V270h-3ZM642 249h3V251h-3ZM645 244h3V250h-3ZM653 243h3V249h-3ZM656 210h3V243h-3ZM667 188h3V215h-3ZM671 179h3V188h-3ZM682 175h3V183h-3ZM696 195h3V204h-3ZM700 194h3V195h-3ZM704 178h3V194h-3ZM714 224h3V232h-3ZM718 219h3V225h-3ZM722 219h3V220h-3ZM729 249h3V255h-3ZM740 262h3V302h-3ZM754 289h3V322h-3ZM758 274h3V289h-3ZM762 274h3V275h-3ZM773 284h3V297h-3ZM776 280h3V284h-3ZM780 270h3V281h-3ZM784 270h3V271h-3ZM791 267h3V275h-3ZM794 267h3V268h-3ZM802 274h3V277h-3ZM805 262h3V267h-3ZM831 314h3V327h-3ZM842 329h3V332h-3ZM863 444h3V453h-3ZM867 424h3V444h-3ZM871 421h3V425h-3ZM874 403h3V421h-3ZM878 386h3V403h-3ZM896 398h3V407h-3ZM907 430h3V437h-3ZM911 413h3V430h-3ZM922 415h3V451h-3ZM925 387h3V415h-3ZM932 414h3V416h-3ZM940 422h3V426h-3ZM943 416h3V422h-3ZM958 405h3V428h-3ZM962 391h3V405h-3ZM965 375h3V392h-3ZM969 353h3V376h-3ZM972 347h3V354h-3ZM976 340h3V347h-3ZM980 338h3V340h-3ZM991 346h3V355h-3ZM1012 399h3V410h-3ZM1016 396h3V399h-3ZM1020 375h3V397h-3ZM1023 366h3V375h-3ZM1031 423h3V427h-3ZM1034 421h3V424h-3ZM1038 401h3V421h-3ZM1056 471h3V479h-3ZM1071 534h3V545h-3ZM1078 538h3V549h-3ZM1081 524h3V538h-3ZM1089 525h3V535h-3ZM1103 534h3V544h-3ZM1107 519h3V534h-3ZM1121 553h3V577h-3ZM1125 546h3V553h-3ZM1129 537h3V546h-3ZM1151 614h3V637h-3ZM1154 613h3V615h-3ZM1158 581h3V613h-3ZM1172 612h3V633h-3ZM1183 629h3V649h-3ZM1187 592h3V629h-3ZM1190 592h3V593h-3ZM1205 689h3V691h-3ZM1220 747h3V783h-3ZM1223 733h3V748h-3ZM1227 728h3V733h-3ZM1230 728h3V729h-3ZM1241 750h3V751h-3ZM1245 739h3V750h-3ZM1252 715h3V743h-3ZM1256 706h3V715h-3ZM1260 706h3V707h-3ZM1263 697h3V706h-3ZM1270 677h3V700h-3ZM1278 686h3V694h-3ZM1285 710h3V715h-3ZM1289 670h3V711h-3ZM1292 663h3V670h-3ZM1299 674h3V681h-3ZM1310 684h3V694h-3ZM1318 678h3V694h-3ZM1329 692h3V699h-3ZM1332 643h3V692h-3ZM1336 636h3V644h-3ZM1339 619h3V637h-3ZM1347 612h3V622h-3ZM1354 613h3V625h-3ZM1365 611h3V625h-3ZM1369 611h3V612h-3ZM1372 597h3V612h-3ZM1379 624h3V628h-3ZM1383 624h3V625h-3ZM1394 626h3V630h-3ZM1401 621h3V632h-3ZM1412 614h3V627h-3ZM1416 608h3V614h-3ZM1434 700h3V713h-3ZM1445 705h3V732h-3ZM1448 705h3V706h-3ZM1452 694h3V705h-3ZM1459 681h3V699h-3ZM1463 613h3V682h-3ZM1467 611h3V615h-3ZM1470 606h3V611h-3Z" fill="#1f5a39"/>
<path d="M17 283h3V288h-3ZM24 285h3V289h-3ZM35 282h3V290h-3ZM53 282h3V287h-3ZM60 284h3V288h-3ZM75 234h3V243h-3ZM82 237h3V239h-3ZM97 193h3V201h-3ZM100 201h3V213h-3ZM104 213h3V221h-3ZM108 221h3V223h-3ZM115 191h3V198h-3ZM159 81h3V91h-3ZM162 91h3V92h-3ZM166 92h3V93h-3ZM177 46h3V49h-3ZM180 48h3V55h-3ZM188 47h3V52h-3ZM191 52h3V57h-3ZM195 56h3V62h-3ZM209 -5h3V9h-3ZM213 9h3V38h-3ZM220 33h3V43h-3ZM246 -6h3V4h-3ZM249 4h3V11h-3ZM253 11h3V22h-3ZM260 3h3V62h-3ZM268 57h3V58h-3ZM271 58h3V59h-3ZM286 37h3V41h-3ZM289 41h3V42h-3ZM293 41h3V55h-3ZM297 54h3V71h-3ZM304 28h3V97h-3ZM315 61h3V70h-3ZM322 63h3V64h-3ZM326 64h3V126h-3ZM329 126h3V198h-3ZM333 198h3V231h-3ZM340 222h3V251h-3ZM347 232h3V242h-3ZM351 242h3V271h-3ZM355 271h3V282h-3ZM362 248h3V252h-3ZM380 179h3V189h-3ZM387 179h3V195h-3ZM398 172h3V185h-3ZM402 185h3V219h-3ZM406 219h3V242h-3ZM409 242h3V261h-3ZM420 221h3V222h-3ZM424 222h3V232h-3ZM431 222h3V244h-3ZM435 244h3V262h-3ZM442 255h3V267h-3ZM449 259h3V260h-3ZM456 247h3V289h-3ZM460 289h3V315h-3ZM467 297h3V298h-3ZM471 297h3V370h-3ZM486 329h3V334h-3ZM489 334h3V340h-3ZM500 329h3V337h-3ZM507 330h3V332h-3ZM515 329h3V341h-3ZM529 296h3V312h-3ZM540 255h3V260h-3ZM544 260h3V263h-3ZM551 255h3V267h-3ZM555 267h3V317h-3ZM558 316h3V318h-3ZM569 228h3V261h-3ZM573 261h3V313h-3ZM580 300h3V308h-3ZM584 308h3V311h-3ZM591 308h3V318h-3ZM605 284h3V290h-3ZM613 271h3V285h-3ZM624 254h3V255h-3ZM631 251h3V270h-3ZM638 250h3V251h-3ZM649 244h3V249h-3ZM660 210h3V212h-3ZM664 211h3V215h-3ZM675 179h3V185h-3ZM678 183h3V184h-3ZM685 175h3V194h-3ZM689 194h3V204h-3ZM693 203h3V204h-3ZM707 178h3V225h-3ZM711 225h3V232h-3ZM725 218h3V255h-3ZM733 249h3V265h-3ZM736 265h3V302h-3ZM744 262h3V305h-3ZM747 305h3V310h-3ZM751 310h3V322h-3ZM765 274h3V282h-3ZM769 282h3V297h-3ZM787 271h3V275h-3ZM798 268h3V277h-3ZM809 262h3V274h-3ZM813 273h3V274h-3ZM816 275h3V276h-3ZM820 275h3V282h-3ZM823 282h3V320h-3ZM827 320h3V327h-3ZM834 314h3V321h-3ZM838 321h3V332h-3ZM845 329h3V382h-3ZM849 382h3V388h-3ZM853 386h3V387h-3ZM856 386h3V438h-3ZM860 438h3V453h-3ZM882 386h3V392h-3ZM885 392h3V397h-3ZM889 397h3V401h-3ZM893 401h3V407h-3ZM900 398h3V426h-3ZM903 426h3V437h-3ZM914 413h3V440h-3ZM918 440h3V451h-3ZM929 410h3V416h-3ZM936 415h3V426h-3ZM947 416h3V420h-3ZM951 420h3V423h-3ZM954 422h3V428h-3ZM983 338h3V350h-3ZM987 350h3V355h-3ZM994 346h3V362h-3ZM998 362h3V368h-3ZM1002 368h3V377h-3ZM1005 377h3V398h-3ZM1009 398h3V410h-3ZM1027 366h3V427h-3ZM1042 401h3V407h-3ZM1045 407h3V415h-3ZM1049 415h3V464h-3ZM1052 464h3V479h-3ZM1060 471h3V504h-3ZM1063 504h3V515h-3ZM1067 515h3V545h-3ZM1074 534h3V549h-3ZM1085 524h3V534h-3ZM1092 525h3V527h-3ZM1096 526h3V545h-3ZM1100 544h3V545h-3ZM1111 519h3V542h-3ZM1114 542h3V560h-3ZM1118 560h3V577h-3ZM1132 537h3V568h-3ZM1136 568h3V590h-3ZM1140 590h3V605h-3ZM1143 604h3V608h-3ZM1147 609h3V637h-3ZM1161 581h3V595h-3ZM1165 595h3V596h-3ZM1169 595h3V633h-3ZM1176 612h3V615h-3ZM1180 614h3V649h-3ZM1194 592h3V605h-3ZM1198 605h3V612h-3ZM1201 612h3V690h-3ZM1209 689h3V695h-3ZM1212 694h3V710h-3ZM1216 709h3V783h-3ZM1234 728h3V745h-3ZM1238 744h3V752h-3ZM1249 739h3V742h-3ZM1267 697h3V700h-3ZM1274 677h3V694h-3ZM1281 686h3V715h-3ZM1296 663h3V681h-3ZM1303 674h3V691h-3ZM1307 690h3V694h-3ZM1314 684h3V694h-3ZM1321 678h3V686h-3ZM1325 686h3V699h-3ZM1343 619h3V622h-3ZM1350 612h3V625h-3ZM1358 613h3V614h-3ZM1361 614h3V625h-3ZM1376 597h3V628h-3ZM1387 624h3V626h-3ZM1390 626h3V630h-3ZM1398 626h3V632h-3ZM1405 621h3V623h-3ZM1409 623h3V627h-3ZM1419 608h3V613h-3ZM1423 613h3V618h-3ZM1427 618h3V692h-3ZM1430 692h3V713h-3ZM1438 700h3V713h-3ZM1441 713h3V732h-3ZM1456 694h3V699h-3Z" fill="#6e1710"/>
<path d="M14 284h1V287h-1ZM21 286h1V287h-1ZM29 283h1V288h-1ZM40 287h1V289h-1ZM51 284h1V285h-1ZM58 285h1V286h-1ZM65 273h1V287h-1ZM69 261h1V271h-1ZM72 235h1V261h-1ZM80 239h1V242h-1ZM87 210h1V238h-1ZM90 199h1V209h-1ZM94 194h1V197h-1ZM112 192h1V222h-1ZM123 165h1V197h-1ZM127 160h1V164h-1ZM130 139h1V158h-1ZM138 122h1V138h-1ZM141 118h1V121h-1ZM149 105h1V117h-1ZM152 100h1V104h-1ZM156 82h1V98h-1ZM170 88h1V92h-1ZM174 47h1V86h-1ZM185 48h1V54h-1ZM199 59h1V61h-1ZM203 55h1V58h-1ZM207 -4h1V54h-1ZM218 34h1V37h-1ZM225 33h1V42h-1ZM229 29h1V32h-1ZM232 24h1V28h-1ZM236 11h1V23h-1ZM239 -2h1V9h-1ZM243 -5h1V-4h-1ZM258 4h1V21h-1ZM265 58h1V61h-1ZM276 50h1V58h-1ZM279 46h1V49h-1ZM283 38h1V44h-1ZM301 29h1V70h-1ZM308 74h1V96h-1ZM312 62h1V73h-1ZM319 64h1V70h-1ZM338 223h1V229h-1ZM345 233h1V250h-1ZM359 249h1V281h-1ZM367 245h1V251h-1ZM370 202h1V243h-1ZM374 186h1V200h-1ZM378 180h1V184h-1ZM385 180h1V188h-1ZM392 191h1V194h-1ZM396 173h1V189h-1ZM414 235h1V260h-1ZM418 222h1V233h-1ZM428 223h1V231h-1ZM439 256h1V261h-1ZM447 260h1V266h-1ZM454 248h1V259h-1ZM465 298h1V314h-1ZM476 362h1V369h-1ZM479 343h1V360h-1ZM483 331h1V341h-1ZM494 336h1V339h-1ZM497 330h1V335h-1ZM505 332h1V336h-1ZM512 330h1V331h-1ZM519 321h1V340h-1ZM523 301h1V319h-1ZM527 297h1V299h-1ZM534 268h1V311h-1ZM537 256h1V266h-1ZM548 256h1V262h-1ZM563 298h1V317h-1ZM566 229h1V296h-1ZM577 301h1V312h-1ZM588 309h1V310h-1ZM596 315h1V317h-1ZM599 301h1V314h-1ZM603 285h1V299h-1ZM610 272h1V289h-1ZM617 267h1V284h-1ZM621 255h1V265h-1ZM628 252h1V254h-1ZM636 260h1V269h-1ZM646 245h1V249h-1ZM654 244h1V248h-1ZM657 211h1V242h-1ZM668 189h1V214h-1ZM672 180h1V187h-1ZM683 176h1V182h-1ZM697 196h1V203h-1ZM705 179h1V193h-1ZM715 225h1V231h-1ZM719 220h1V224h-1ZM730 250h1V254h-1ZM741 263h1V301h-1ZM755 290h1V321h-1ZM759 275h1V288h-1ZM774 285h1V296h-1ZM777 281h1V283h-1ZM781 271h1V280h-1ZM792 268h1V274h-1ZM803 275h1V276h-1ZM806 263h1V266h-1ZM832 315h1V326h-1ZM843 330h1V331h-1ZM864 445h1V452h-1ZM868 425h1V443h-1ZM872 422h1V424h-1ZM875 404h1V420h-1ZM879 387h1V402h-1ZM897 399h1V406h-1ZM908 431h1V436h-1ZM912 414h1V429h-1ZM923 416h1V450h-1ZM926 388h1V414h-1ZM941 423h1V425h-1ZM944 417h1V421h-1ZM959 406h1V427h-1ZM963 392h1V404h-1ZM966 376h1V391h-1ZM970 354h1V375h-1ZM973 348h1V353h-1ZM977 341h1V346h-1ZM992 347h1V354h-1ZM1013 400h1V409h-1ZM1017 397h1V398h-1ZM1021 376h1V396h-1ZM1024 367h1V374h-1ZM1032 424h1V426h-1ZM1035 422h1V423h-1ZM1039 402h1V420h-1ZM1057 472h1V478h-1ZM1072 535h1V544h-1ZM1079 539h1V548h-1ZM1082 525h1V537h-1ZM1090 526h1V534h-1ZM1104 535h1V543h-1ZM1108 520h1V533h-1ZM1122 554h1V576h-1ZM1126 547h1V552h-1ZM1130 538h1V545h-1ZM1152 615h1V636h-1ZM1159 582h1V612h-1ZM1173 613h1V632h-1ZM1184 630h1V648h-1ZM1188 593h1V628h-1ZM1221 748h1V782h-1ZM1224 734h1V747h-1ZM1228 729h1V732h-1ZM1246 740h1V749h-1ZM1253 716h1V742h-1ZM1257 707h1V714h-1ZM1264 698h1V705h-1ZM1271 678h1V699h-1ZM1279 687h1V693h-1ZM1286 711h1V714h-1ZM1290 671h1V710h-1ZM1293 664h1V669h-1ZM1300 675h1V680h-1ZM1311 685h1V693h-1ZM1319 679h1V693h-1ZM1330 693h1V698h-1ZM1333 644h1V691h-1ZM1337 637h1V643h-1ZM1340 620h1V636h-1ZM1348 613h1V621h-1ZM1355 614h1V624h-1ZM1366 612h1V624h-1ZM1373 598h1V611h-1ZM1380 625h1V627h-1ZM1395 627h1V629h-1ZM1402 622h1V631h-1ZM1413 615h1V626h-1ZM1417 609h1V613h-1ZM1435 701h1V712h-1ZM1446 706h1V731h-1ZM1453 695h1V704h-1ZM1460 682h1V698h-1ZM1464 614h1V681h-1ZM1468 612h1V614h-1ZM1471 607h1V610h-1Z" fill="#68b68d"/>
<path d="M18 284h1V287h-1ZM25 286h1V288h-1ZM36 283h1V289h-1ZM54 283h1V286h-1ZM61 285h1V287h-1ZM76 235h1V242h-1ZM98 194h1V200h-1ZM101 202h1V212h-1ZM105 214h1V220h-1ZM116 192h1V197h-1ZM160 82h1V90h-1ZM178 47h1V48h-1ZM181 49h1V54h-1ZM189 48h1V51h-1ZM192 53h1V56h-1ZM196 57h1V61h-1ZM210 -4h1V8h-1ZM214 10h1V37h-1ZM221 34h1V42h-1ZM247 -5h1V3h-1ZM250 5h1V10h-1ZM254 12h1V21h-1ZM261 4h1V61h-1ZM287 38h1V40h-1ZM294 42h1V54h-1ZM298 55h1V70h-1ZM305 29h1V96h-1ZM316 62h1V69h-1ZM327 65h1V125h-1ZM330 127h1V197h-1ZM334 199h1V230h-1ZM341 223h1V250h-1ZM348 233h1V241h-1ZM352 243h1V270h-1ZM356 272h1V281h-1ZM363 249h1V251h-1ZM381 180h1V188h-1ZM388 180h1V194h-1ZM399 173h1V184h-1ZM403 186h1V218h-1ZM407 220h1V241h-1ZM410 243h1V260h-1ZM425 223h1V231h-1ZM432 223h1V243h-1ZM436 245h1V261h-1ZM443 256h1V266h-1ZM457 248h1V288h-1ZM461 290h1V314h-1ZM472 298h1V369h-1ZM487 330h1V333h-1ZM490 335h1V339h-1ZM501 330h1V336h-1ZM516 330h1V340h-1ZM530 297h1V311h-1ZM541 256h1V259h-1ZM545 261h1V262h-1ZM552 256h1V266h-1ZM556 268h1V316h-1ZM570 229h1V260h-1ZM574 262h1V312h-1ZM581 301h1V307h-1ZM585 309h1V310h-1ZM592 309h1V317h-1ZM606 285h1V289h-1ZM614 272h1V284h-1ZM632 252h1V269h-1ZM650 245h1V248h-1ZM665 212h1V214h-1ZM676 180h1V184h-1ZM686 176h1V193h-1ZM690 195h1V203h-1ZM708 179h1V224h-1ZM712 226h1V231h-1ZM726 219h1V254h-1ZM734 250h1V264h-1ZM737 266h1V301h-1ZM745 263h1V304h-1ZM748 306h1V309h-1ZM752 311h1V321h-1ZM766 275h1V281h-1ZM770 283h1V296h-1ZM788 272h1V274h-1ZM799 269h1V276h-1ZM810 263h1V273h-1ZM821 276h1V281h-1ZM824 283h1V319h-1ZM828 321h1V326h-1ZM835 315h1V320h-1ZM839 322h1V331h-1ZM846 330h1V381h-1ZM850 383h1V387h-1ZM857 387h1V437h-1ZM861 439h1V452h-1ZM883 387h1V391h-1ZM886 393h1V396h-1ZM890 398h1V400h-1ZM894 402h1V406h-1ZM901 399h1V425h-1ZM904 427h1V436h-1ZM915 414h1V439h-1ZM919 441h1V450h-1ZM930 411h1V415h-1ZM937 416h1V425h-1ZM948 417h1V419h-1ZM952 421h1V422h-1ZM955 423h1V427h-1ZM984 339h1V349h-1ZM988 351h1V354h-1ZM995 347h1V361h-1ZM999 363h1V367h-1ZM1003 369h1V376h-1ZM1006 378h1V397h-1ZM1010 399h1V409h-1ZM1028 367h1V426h-1ZM1043 402h1V406h-1ZM1046 408h1V414h-1ZM1050 416h1V463h-1ZM1053 465h1V478h-1ZM1061 472h1V503h-1ZM1064 505h1V514h-1ZM1068 516h1V544h-1ZM1075 535h1V548h-1ZM1086 525h1V533h-1ZM1097 527h1V544h-1ZM1112 520h1V541h-1ZM1115 543h1V559h-1ZM1119 561h1V576h-1ZM1133 538h1V567h-1ZM1137 569h1V589h-1ZM1141 591h1V604h-1ZM1144 605h1V607h-1ZM1148 610h1V636h-1ZM1162 582h1V594h-1ZM1170 596h1V632h-1ZM1177 613h1V614h-1ZM1181 615h1V648h-1ZM1195 593h1V604h-1ZM1199 606h1V611h-1ZM1202 613h1V689h-1ZM1210 690h1V694h-1ZM1213 695h1V709h-1ZM1217 710h1V782h-1ZM1235 729h1V744h-1ZM1239 745h1V751h-1ZM1250 740h1V741h-1ZM1268 698h1V699h-1ZM1275 678h1V693h-1ZM1282 687h1V714h-1ZM1297 664h1V680h-1ZM1304 675h1V690h-1ZM1308 691h1V693h-1ZM1315 685h1V693h-1ZM1322 679h1V685h-1ZM1326 687h1V698h-1ZM1344 620h1V621h-1ZM1351 613h1V624h-1ZM1362 615h1V624h-1ZM1377 598h1V627h-1ZM1391 627h1V629h-1ZM1399 627h1V631h-1ZM1410 624h1V626h-1ZM1420 609h1V612h-1ZM1424 614h1V617h-1ZM1428 619h1V691h-1ZM1431 693h1V712h-1ZM1439 701h1V712h-1ZM1442 714h1V731h-1ZM1457 695h1V698h-1Z" fill="#f0654c"/>
<path d="M13 606.5H1653" stroke="#5a9e7a" stroke-width="1" stroke-dasharray="1 2" fill="none"/>
</g>
<path d="M1712.5 0V870.5M13 836.5H1801.8" stroke="#484848" stroke-width="1" fill="none"/>
<rect x="1717.2" y="-6" width="79.8" height="34.7" rx="4.5" fill="#fff" stroke="#efefef" stroke-width="1.3"/>
<text x="1728.6" y="17.8" font-size="14.6" fill="#2a2a2a" textLength="25.5" lengthAdjust="spacingAndGlyphs">USD</text>
<text x="1723.8" y="60.1" font-size="14.1" fill="#4f4f4f" textLength="66.7" lengthAdjust="spacingAndGlyphs">122,000.00</text>
<text x="1723.8" y="96.57" font-size="14.1" fill="#4f4f4f" textLength="66.7" lengthAdjust="spacingAndGlyphs">120,000.00</text>
<text x="1723.8" y="133.04" font-size="14.1" fill="#4f4f4f" textLength="66.7" lengthAdjust="spacingAndGlyphs">118,000.00</text>
<text x="1723.8" y="169.51" font-size="14.1" fill="#4f4f4f" textLength="66.7" lengthAdjust="spacingAndGlyphs">116,000.00</text>
<text x="1723.8" y="205.98" font-size="14.1" fill="#4f4f4f" textLength="66.7" lengthAdjust="spacingAndGlyphs">114,000.00</text>
<text x="1723.8" y="242.45" font-size="14.1" fill="#4f4f4f" textLength="66.7" lengthAdjust="spacingAndGlyphs">112,000.00</text>
<text x="1723.8" y="278.92" font-size="14.1" fill="#4f4f4f" textLength="66.7" lengthAdjust="spacingAndGlyphs">110,000.00</text>
<text x="1723.8" y="315.39" font-size="14.1" fill="#4f4f4f" textLength="66.7" lengthAdjust="spacingAndGlyphs">108,000.00</text>
<text x="1723.8" y="351.86" font-size="14.1" fill="#4f4f4f" textLength="66.7" lengthAdjust="spacingAndGlyphs">106,000.00</text>
<text x="1723.8" y="388.33" font-size="14.1" fill="#4f4f4f" textLength="66.7" lengthAdjust="spacingAndGlyphs">104,000.00</text>
<text x="1723.8" y="424.8" font-size="14.1" fill="#4f4f4f" textLength="66.7" lengthAdjust="spacingAndGlyphs">102,000.00</text>
<text x="1723.8" y="461.27" font-size="14.1" fill="#4f4f4f" textLength="66.7" lengthAdjust="spacingAndGlyphs">100,000.00</text>
<text x="1723.8" y="497.74" font-size="14.1" fill="#4f4f4f" textLength="59.3" lengthAdjust="spacingAndGlyphs">98,000.00</text>
<text x="1723.8" y="534.21" font-size="14.1" fill="#4f4f4f" textLength="59.3" lengthAdjust="spacingAndGlyphs">96,000.00</text>
<text x="1723.8" y="570.68" font-size="14.1" fill="#4f4f4f" textLength="59.3" lengthAdjust="spacingAndGlyphs">94,000.00</text>
<text x="1723.8" y="607.15" font-size="14.1" fill="#4f4f4f" textLength="59.3" lengthAdjust="spacingAndGlyphs">92,000.00</text>
<text x="1723.8" y="643.62" font-size="14.1" fill="#4f4f4f" textLength="59.3" lengthAdjust="spacingAndGlyphs">90,000.00</text>
<text x="1723.8" y="680.09" font-size="14.1" fill="#4f4f4f" textLength="59.3" lengthAdjust="spacingAndGlyphs">88,000.00</text>
<text x="1723.8" y="716.56" font-size="14.1" fill="#4f4f4f" textLength="59.3" lengthAdjust="spacingAndGlyphs">86,000.00</text>
<text x="1723.8" y="753.03" font-size="14.1" fill="#4f4f4f" textLength="59.3" lengthAdjust="spacingAndGlyphs">84,000.00</text>
<text x="1723.8" y="789.5" font-size="14.1" fill="#4f4f4f" textLength="59.3" lengthAdjust="spacingAndGlyphs">82,000.00</text>
<text x="1723.8" y="825.97" font-size="14.1" fill="#4f4f4f" textLength="59.3" lengthAdjust="spacingAndGlyphs">80,000.00</text>
<path d="M1656.9 597H1712.5V615.8H1656.9a3 3 0 0 1 -3 -3V600a3 3 0 0 1 3 -3Z" fill="#6ba685"/>
<path d="M1712.5 597H1787.1a3 3 0 0 1 3 3V628.6a3 3 0 0 1 -3 3H1712.5Z" fill="#6ba685"/>
<text x="1658.3" y="610.7" font-size="12.6" fill="#fff" textLength="47.6" lengthAdjust="spacingAndGlyphs">BTCUSD</text>
<text x="1723.8" y="609.7" font-size="13.2" font-weight="bold" fill="#fff" textLength="61" lengthAdjust="spacingAndGlyphs">91,831.74</text>
<text x="1723.8" y="625.7" font-size="13.2" fill="#fff" fill-opacity="0.8" textLength="54" lengthAdjust="spacingAndGlyphs">02:44:54</text>
<text x="40" y="858" font-size="14.4" fill="#4f4f4f" textLength="14.8" lengthAdjust="spacingAndGlyphs">28</text>
<text x="98.5" y="857.8" font-size="13.3" font-weight="bold" fill="#404040" textLength="14.8" lengthAdjust="spacingAndGlyphs">10</text>
<text x="113.3" y="857.8" font-size="13.3" font-weight="bold" fill="#404040" font-family="&quot;Liberation Sans&quot;,&quot;Noto Sans CJK JP&quot;,sans-serif">月</text>
<text x="174.8" y="858" font-size="14.4" fill="#4f4f4f" textLength="7.4" lengthAdjust="spacingAndGlyphs">4</text>
<text x="239.9" y="858" font-size="14.4" fill="#4f4f4f" textLength="7.4" lengthAdjust="spacingAndGlyphs">7</text>
<text x="301.4" y="858" font-size="14.4" fill="#4f4f4f" textLength="14.8" lengthAdjust="spacingAndGlyphs">10</text>
<text x="366.9" y="858" font-size="14.4" fill="#4f4f4f" textLength="14.8" lengthAdjust="spacingAndGlyphs">13</text>
<text x="432.2" y="858" font-size="14.4" fill="#4f4f4f" textLength="14.8" lengthAdjust="spacingAndGlyphs">16</text>
<text x="497.8" y="858" font-size="14.4" fill="#4f4f4f" textLength="14.8" lengthAdjust="spacingAndGlyphs">19</text>
<text x="563.1" y="858" font-size="14.4" fill="#4f4f4f" textLength="14.8" lengthAdjust="spacingAndGlyphs">22</text>
<text x="628.6" y="858" font-size="14.4" fill="#4f4f4f" textLength="14.8" lengthAdjust="spacingAndGlyphs">25</text>
<text x="700.6" y="858" font-size="14.4" fill="#4f4f4f" textLength="14.8" lengthAdjust="spacingAndGlyphs">29</text>
<text x="760.4" y="857.8" font-size="13.3" font-weight="bold" fill="#404040" textLength="14.8" lengthAdjust="spacingAndGlyphs">11</text>
<text x="775.2" y="857.8" font-size="13.3" font-weight="bold" fill="#404040" font-family="&quot;Liberation Sans&quot;,&quot;Noto Sans CJK JP&quot;,sans-serif">月</text>
<text x="836.1" y="858" font-size="14.4" fill="#4f4f4f" textLength="7.4" lengthAdjust="spacingAndGlyphs">4</text>
<text x="901.3" y="858" font-size="14.4" fill="#4f4f4f" textLength="7.4" lengthAdjust="spacingAndGlyphs">7</text>
<text x="959.3" y="858" font-size="14.4" fill="#4f4f4f" textLength="14.8" lengthAdjust="spacingAndGlyphs">10</text>
<text x="1024.9" y="858" font-size="14.4" fill="#4f4f4f" textLength="14.8" lengthAdjust="spacingAndGlyphs">13</text>
<text x="1090.1" y="858" font-size="14.4" fill="#4f4f4f" textLength="14.8" lengthAdjust="spacingAndGlyphs">16</text>
<text x="1155.3" y="858" font-size="14.4" fill="#4f4f4f" textLength="14.8" lengthAdjust="spacingAndGlyphs">19</text>
<text x="1220.9" y="858" font-size="14.4" fill="#4f4f4f" textLength="14.8" lengthAdjust="spacingAndGlyphs">22</text>
<text x="1286.2" y="858" font-size="14.4" fill="#4f4f4f" textLength="14.8" lengthAdjust="spacingAndGlyphs">25</text>
<text x="1351.8" y="858" font-size="14.4" fill="#4f4f4f" textLength="14.8" lengthAdjust="spacingAndGlyphs">28</text>
<text x="1410.3" y="857.8" font-size="13.3" font-weight="bold" fill="#404040" textLength="14.8" lengthAdjust="spacingAndGlyphs">12</text>
<text x="1425.1" y="857.8" font-size="13.3" font-weight="bold" fill="#404040" font-family="&quot;Liberation Sans&quot;,&quot;Noto Sans CJK JP&quot;,sans-serif">月</text>
<text x="1485.9" y="858" font-size="14.4" fill="#4f4f4f" textLength="7.4" lengthAdjust="spacingAndGlyphs">4</text>
<text x="1551.6" y="858" font-size="14.4" fill="#4f4f4f" textLength="7.4" lengthAdjust="spacingAndGlyphs">7</text>
<text x="1613.1" y="858" font-size="14.4" fill="#4f4f4f" textLength="14.8" lengthAdjust="spacingAndGlyphs">10</text>
<text x="1678.8" y="858" font-size="14.4" fill="#4f4f4f" textLength="14.8" lengthAdjust="spacingAndGlyphs">13</text>
<g fill="#131313"><path d="M15.2 898.8H30.7V916.8H23.1V905.8H15.2Z"/><circle cx="36.8" cy="902.2" r="3.45"/><path d="M45 898.8H52.9L46.5 916.8H37.4Z"/></g>
<text x="62" y="916.8" font-size="25" font-weight="bold" fill="#131313" textLength="151" lengthAdjust="spacingAndGlyphs">TradingView</text>
</svg></body></html>
